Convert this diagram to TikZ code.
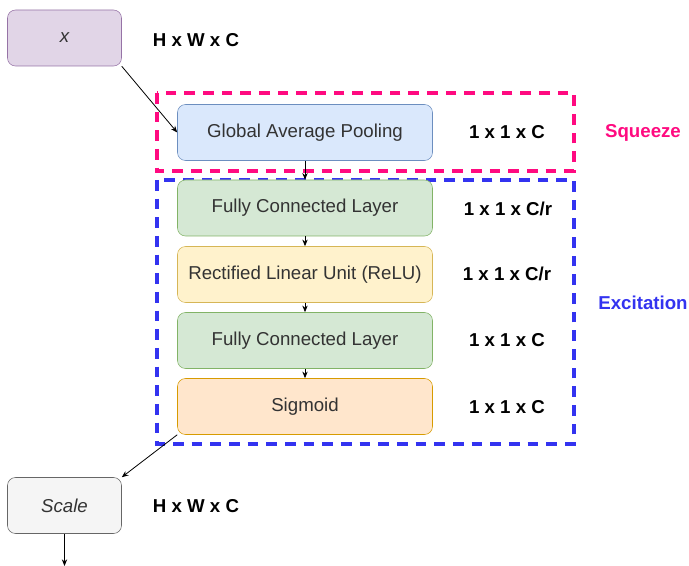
\documentclass[tikz,border=0pt]{standalone}
\usepackage{fontspec}
\setmainfont{Liberation Sans}
\usetikzlibrary{arrows.meta}
\definecolor{sqpink}{HTML}{FF0A80}
\definecolor{exblue}{HTML}{3333F0}
\definecolor{purplefill}{HTML}{E1D5E7}
\definecolor{purpleline}{HTML}{9673A6}
\definecolor{bluefill}{HTML}{DAE8FC}
\definecolor{blueline}{HTML}{6C8EBF}
\definecolor{greenfill}{HTML}{D5E8D4}
\definecolor{greenline}{HTML}{82B366}
\definecolor{yellowfill}{HTML}{FFF2CC}
\definecolor{yellowline}{HTML}{D6B656}
\definecolor{orangefill}{HTML}{FFE6CC}
\definecolor{orangeline}{HTML}{D79B00}
\definecolor{greyfill}{HTML}{F5F5F5}
\definecolor{greyline}{HTML}{666666}
\tikzset{
  layer/.style={draw, rounded corners=6pt, minimum width=191.25pt, minimum height=42pt, inner sep=0pt, text=black!80, font=\fontsize{14}{17}\selectfont},
  smallbox/.style={layer, minimum width=85.5pt},
  dimlabel/.style={inner sep=0pt, font=\fontsize{14}{17}\selectfont\bfseries},
  flow/.style={-{Stealth[length=5pt,width=4pt]}, line width=0.6pt},
  group/.style={line width=2.3pt, dash pattern=on 8pt off 6pt}
}
\begin{document}
\begin{tikzpicture}[x=0.75pt,y=0.75pt,yscale=-1,xscale=1]
\useasboundingbox (0,0) rectangle (689,566);

%Shape: Squeeze group
\draw [group, draw=sqpink] (157,93) rectangle (574,171);
%Shape: Excitation group
\draw [group, draw=exblue] (157,180) rectangle (574,444);

% Input
\node [smallbox, fill=purplefill, draw=purpleline] (xin) at (64.5,38) {\itshape x};
\node [dimlabel] (xdim) at (196,40) {H x W x C};

% Layers
\node [layer, fill=bluefill, draw=blueline] (gap) at (305,132.5) {Global Average Pooling};
\node [layer, fill=greenfill, draw=greenline] (fc1) at (305,208) {Fully Connected Layer};
\node [layer, fill=yellowfill, draw=yellowline] (relu) at (305,274.5) {Rectified Linear Unit (ReLU)};
\node [layer, fill=greenfill, draw=greenline] (fc2) at (305,340.5) {Fully Connected Layer};
\node [layer, fill=orangefill, draw=orangeline] (sig) at (305,406.5) {Sigmoid};

% Text Node
\node [dimlabel] (gapdim) at (507,132) {1 x 1 x C};
\node [dimlabel] (fc1dim) at (508,209) {1 x 1 x C/r};
\node [dimlabel] (reludim) at (507,274) {1 x 1 x C/r};
\node [dimlabel] (fc2dim) at (507,340) {1 x 1 x C};
\node [dimlabel] (sigdim) at (507,407) {1 x 1 x C};
\node [dimlabel, text=sqpink] (squeeze) at (643,133) {Squeeze};
\node [dimlabel, text=exblue] (excite) at (643,303) {Excitation};

% Output
\node [smallbox, fill=greyfill, draw=greyline] (scale) at (64.5,505.5) {\itshape Scale};
\node [dimlabel] (scaledim) at (196,506) {H x W x C};
\coordinate (out) at (64.5,566);

% Arrows
\draw [flow] (xin.south east) -- (gap.west);
\draw [flow] (gap) -- (fc1);
\draw [flow] (fc1) -- (relu);
\draw [flow] (relu) -- (fc2);
\draw [flow] (fc2) -- (sig);
\draw [flow] (sig.south west) -- (scale.north east);
\draw [flow] (scale) -- (out);
\end{tikzpicture}
\end{document}
